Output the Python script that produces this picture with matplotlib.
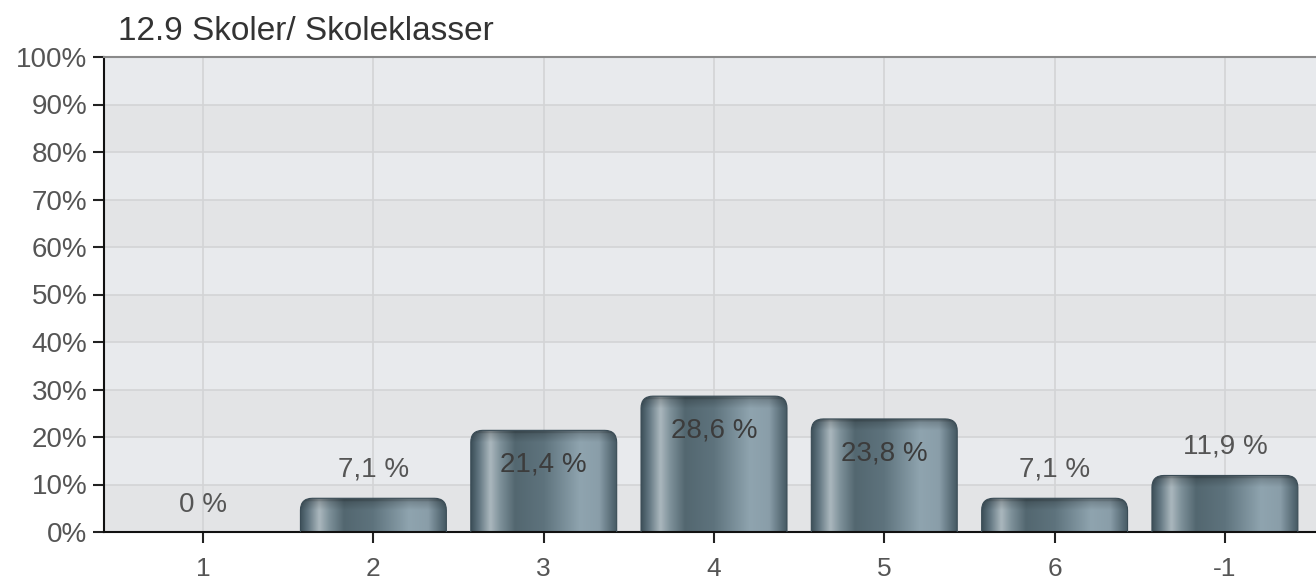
import numpy as np
import matplotlib
matplotlib.use('Agg')
import matplotlib.pyplot as plt
from matplotlib.patches import FancyBboxPatch
from matplotlib.colors import to_rgb

plt.rcParams['font.family'] = ['Liberation Sans', 'DejaVu Sans']

# chart data
title = '12.9 Skoler/ Skoleklasser'
categories = ['1', '2', '3', '4', '5', '6', '-1']
values = [0, 7.1, 21.4, 28.6, 23.8, 7.1, 11.9]
yticks = list(range(0, 101, 10))


def bar_image(height_px, value, ymin, nrows=200, ncols=120):
    # horizontal shading stops of the cylinder look
    stops = [(0.0, '#3e515b'), (0.05, '#617580'), (0.13, '#abb8be'),
             (0.2, '#7d9099'), (0.3, '#536770'), (0.5, '#5e737d'),
             (0.75, '#8fa4af'), (0.88, '#8a9ea9'), (1.0, '#475b65')]
    xs = np.linspace(0, 1, ncols)
    pos = [s[0] for s in stops]
    cols = np.array([to_rgb(s[1]) for s in stops])
    row = np.stack([np.interp(xs, pos, cols[:, k]) for k in range(3)], axis=1)
    ys = np.linspace(value, ymin, nrows)
    px_from_top = (value - ys) / 100.0 * height_px
    fac = np.where(px_from_top < 3, 0.7,
                   np.where(px_from_top < 12, 0.82 + 0.18 * (px_from_top - 3) / 9, 1.0))
    img = row[None, :, :] * fac[:, None, None]
    return np.clip(img, 0, 1)


fig = plt.figure(figsize=(13.16, 5.79), dpi=100)
ax = fig.add_axes([104 / 1316, 47 / 579, 1212 / 1316, 475 / 579])

xlim = (-0.582, 6.535)
ax.set_xlim(*xlim)
ax.set_ylim(0, 100)

# striped background
for i, lo in enumerate(range(0, 100, 10)):
    ax.axhspan(lo, lo + 10, color='#e3e4e6' if i % 2 == 0 else '#e8eaed',
               zorder=0, lw=0)
for t in yticks[1:]:
    ax.axhline(t, color='#d3d4d6', lw=1.2, zorder=1)
for i in range(len(categories)):
    ax.axvline(i, color='#d3d4d6', lw=1.2, zorder=1)

x_per_px = (xlim[1] - xlim[0]) / 1212
y_per_px = 100 / 475
aspect = y_per_px / x_per_px
width = 0.857
radius_px = 12

for i, v in enumerate(values):
    if v > 0:
        x0 = i - width / 2
        ymin = -5
        patch = FancyBboxPatch((x0, ymin), width, v - ymin,
                               boxstyle=f'round,pad=0,rounding_size={radius_px * x_per_px}',
                               mutation_aspect=aspect, facecolor='none',
                               edgecolor='#3a4c56', lw=0.8, zorder=3)
        ax.add_patch(patch)
        im = ax.imshow(bar_image(475, v, ymin), extent=[x0, x0 + width, ymin, v],
                       aspect='auto', zorder=2, interpolation='bilinear')
        im.set_clip_path(patch)
    label = f'{v:g}'.replace('.', ',') + ' %'
    ly = v - 7.2 if v > 15 else v + 6
    if v == 0:
        ly = 5.7
    ax.text(i, ly, label, ha='center', va='center', fontsize=20,
            color='#3c3c3c' if v > 15 else '#555555', zorder=4)

ax.set_xticks(range(len(categories)))
ax.set_xticklabels(categories)
ax.set_yticks(yticks)
ax.set_yticklabels([f'{t}%' for t in yticks])
ax.tick_params(axis='both', colors='#222222', labelcolor='#555555',
               labelsize=20, length=8, width=1.5)
ax.tick_params(axis='x', pad=10, labelsize=19)
ax.tick_params(axis='y', pad=4)

for s in ['left', 'bottom']:
    ax.spines[s].set_color('#111111')
    ax.spines[s].set_linewidth(1.5)
ax.spines['top'].set_color('#8a8a8a')
ax.spines['top'].set_linewidth(1.5)
ax.spines['right'].set_visible(False)

fig.text(118 / 1316, 1 - 31 / 579, title, ha='left', va='center',
         fontsize=24, color='#333333')

fig.savefig('out.png', dpi=100)
